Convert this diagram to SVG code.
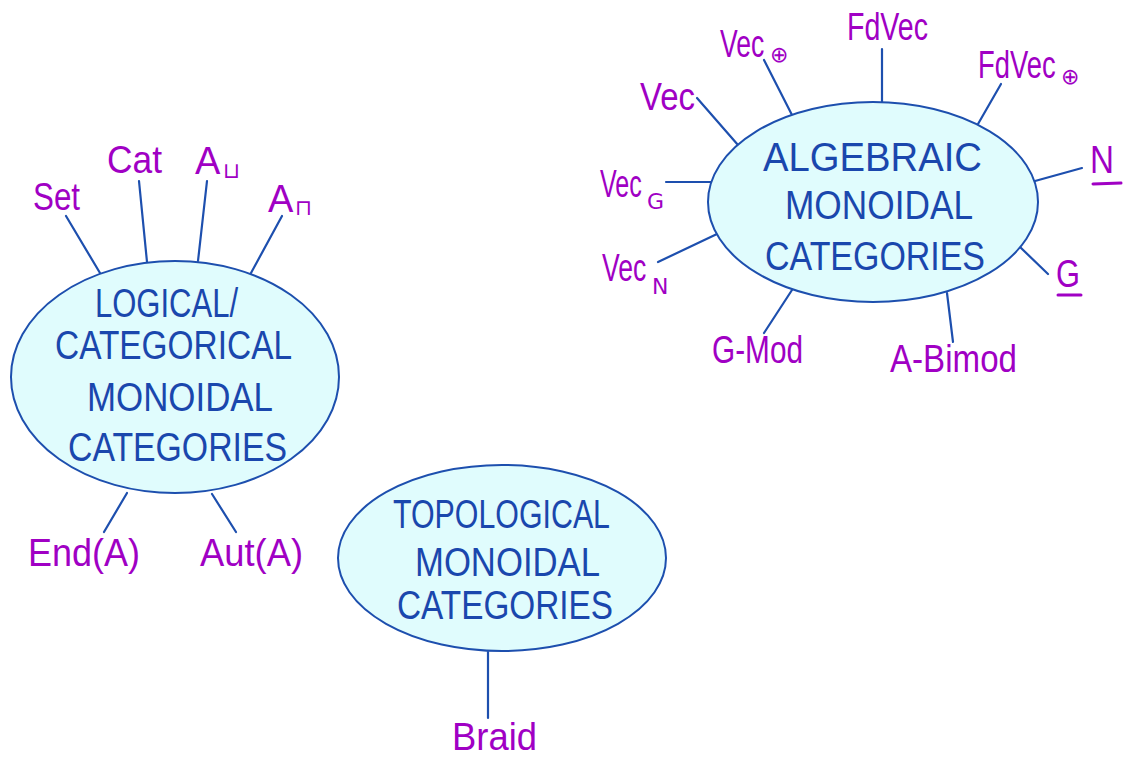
<svg xmlns="http://www.w3.org/2000/svg" width="1131" height="760" viewBox="0 0 1131 760">
<style>
.bg{fill:#ffffff}
.node ellipse{fill:#e0fcfd;stroke:#1d4fae;stroke-width:2}
.nt{font-family:"Liberation Sans","DejaVu Sans",sans-serif;font-size:40px;fill:#1a47ad}
.lb{font-family:"Liberation Sans","DejaVu Sans",sans-serif;font-size:38px;fill:#a000c4}
.sub{font-family:"DejaVu Sans","Liberation Sans",sans-serif;font-size:22px;fill:#a000c4}
.ul{stroke:#a000c4;stroke-width:3;stroke-linecap:round}
#connectors line{stroke:#1d4fae;stroke-width:2.2;stroke-linecap:round}
</style>
<rect class="bg" x="0" y="0" width="1131" height="760"/>
<g id="connectors">
<line x1="66" y1="216" x2="100" y2="273"/>
<line x1="139" y1="181" x2="147" y2="262"/>
<line x1="207" y1="181" x2="198" y2="261"/>
<line x1="282" y1="216" x2="251" y2="273"/>
<line x1="127" y1="493" x2="104" y2="532"/>
<line x1="212" y1="494" x2="236" y2="532"/>
<line x1="697" y1="98" x2="738" y2="145"/>
<line x1="764" y1="60" x2="792" y2="115"/>
<line x1="882" y1="49" x2="882" y2="102"/>
<line x1="1001" y1="84" x2="978" y2="124"/>
<line x1="1082" y1="168" x2="1035" y2="181"/>
<line x1="1048" y1="274" x2="1020" y2="247"/>
<line x1="666" y1="182" x2="711" y2="182"/>
<line x1="658" y1="262" x2="717" y2="234"/>
<line x1="764" y1="333" x2="792" y2="290"/>
<line x1="953" y1="342" x2="947" y2="293"/>
<line x1="488" y1="652" x2="488" y2="718"/>
</g>
<g id="node-logical" class="node">
<ellipse cx="175" cy="377" rx="164" ry="116"/>
<text class="nt" x="95" y="317" textLength="143" lengthAdjust="spacingAndGlyphs">LOGICAL/</text>
<text class="nt" x="55" y="359" textLength="237" lengthAdjust="spacingAndGlyphs">CATEGORICAL</text>
<text class="nt" x="87" y="411" textLength="186" lengthAdjust="spacingAndGlyphs">MONOIDAL</text>
<text class="nt" x="68" y="461" textLength="219" lengthAdjust="spacingAndGlyphs">CATEGORIES</text>
</g>
<g id="node-algebraic" class="node">
<ellipse cx="873" cy="202" rx="165" ry="100"/>
<text class="nt" x="763" y="171" textLength="219" lengthAdjust="spacingAndGlyphs">ALGEBRAIC</text>
<text class="nt" x="785" y="219" textLength="188" lengthAdjust="spacingAndGlyphs">MONOIDAL</text>
<text class="nt" x="765" y="270" textLength="220" lengthAdjust="spacingAndGlyphs">CATEGORIES</text>
</g>
<g id="node-topological" class="node">
<ellipse cx="502" cy="558" rx="164" ry="93"/>
<text class="nt" x="393" y="528" textLength="217" lengthAdjust="spacingAndGlyphs">TOPOLOGICAL</text>
<text class="nt" x="415" y="576" textLength="185" lengthAdjust="spacingAndGlyphs">MONOIDAL</text>
<text class="nt" x="397" y="619" textLength="216" lengthAdjust="spacingAndGlyphs">CATEGORIES</text>
</g>
<g id="label-set"><text class="lb" x="33" y="210" textLength="47" lengthAdjust="spacingAndGlyphs">Set</text></g>
<g id="label-cat"><text class="lb" x="107" y="173" textLength="55" lengthAdjust="spacingAndGlyphs">Cat</text></g>
<g id="label-acup"><text class="lb" x="195" y="174">A</text><text class="sub" x="223" y="178">⊔</text></g>
<g id="label-acap"><text class="lb" x="268" y="212">A</text><text class="sub" x="295" y="215">⊓</text></g>
<g id="label-end"><text class="lb" x="28" y="566" textLength="112" lengthAdjust="spacingAndGlyphs">End(A)</text></g>
<g id="label-aut"><text class="lb" x="200" y="566" textLength="103" lengthAdjust="spacingAndGlyphs">Aut(A)</text></g>
<g id="label-braid"><text class="lb" x="452" y="750" textLength="85" lengthAdjust="spacingAndGlyphs">Braid</text></g>
<g id="label-vec"><text class="lb" x="640" y="110" textLength="55" lengthAdjust="spacingAndGlyphs">Vec</text></g>
<g id="label-vecoplus"><text class="lb" transform="translate(720 57) scale(0.7 1)">Vec</text><text class="sub" x="770" y="62">⊕</text></g>
<g id="label-fdvec"><text class="lb" x="847" y="40" textLength="81" lengthAdjust="spacingAndGlyphs">FdVec</text></g>
<g id="label-fdvecoplus"><text class="lb" transform="translate(978 78) scale(0.72 1)">FdVec</text><text class="sub" x="1061" y="84">⊕</text></g>
<g id="label-n"><text class="lb" x="1090" y="173" textLength="24" lengthAdjust="spacingAndGlyphs">N</text><line class="ul" x1="1093" y1="184" x2="1121" y2="183"/></g>
<g id="label-g"><text class="lb" x="1056" y="287" textLength="24" lengthAdjust="spacingAndGlyphs">G</text><line class="ul" x1="1058" y1="295" x2="1081" y2="295"/></g>
<g id="label-vecg"><text class="lb" transform="translate(600 197) scale(0.66 1)">Vec</text><text class="sub" x="647" y="209">G</text></g>
<g id="label-vecn"><text class="lb" transform="translate(602 281) scale(0.7 1)">Vec</text><text class="sub" x="652" y="294">N</text></g>
<g id="label-gmod"><text class="lb" x="712" y="363" textLength="91" lengthAdjust="spacingAndGlyphs">G-Mod</text></g>
<g id="label-abimod"><text class="lb" x="890" y="372" textLength="127" lengthAdjust="spacingAndGlyphs">A-Bimod</text></g>
</svg>
